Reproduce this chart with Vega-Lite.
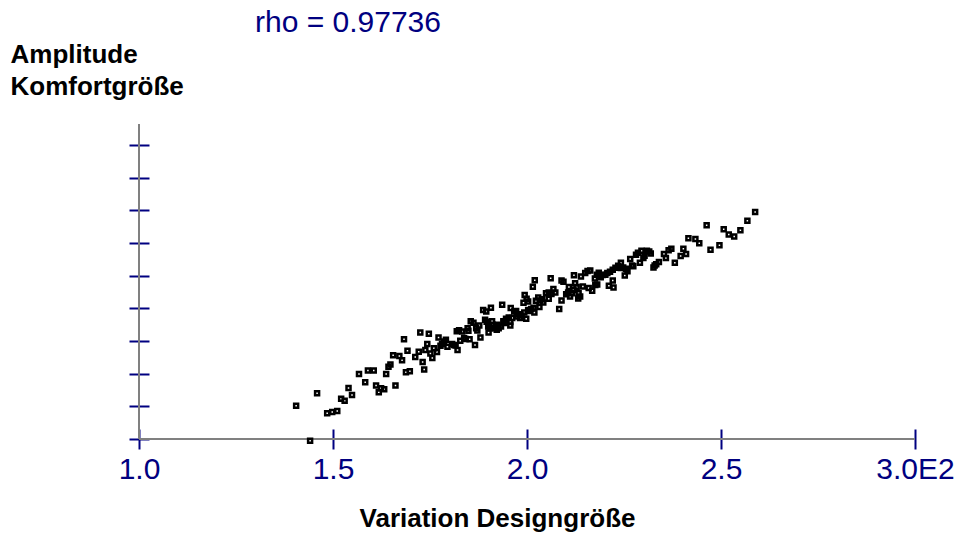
{
  "$schema": "https://vega.github.io/schema/vega-lite/v6.json",
  "width": 776,
  "height": 315,
  "autosize": "none",
  "padding": {"left": 139, "top": 124, "right": 63, "bottom": 95},
  "background": "white",
  "config": {"view": {"stroke": null}, "font": "Liberation Sans"},
  "title": {"text": "rho = 0.97736", "anchor": "start", "frame": "group", "dx": 116, "dy": 31, "offset": 10, "fontSize": 30, "font": "Liberation Sans", "fontWeight": "normal", "color": "#000080", "baseline": "alphabetic"},
  "data": {"values": [
    {"x":1.405,"y":1.02},{"x":1.441,"y":-0.05},{"x":1.459,"y":1.40},{"x":1.485,"y":0.79},{"x":1.498,"y":0.83},
    {"x":1.511,"y":0.86},{"x":1.521,"y":1.23},{"x":1.530,"y":1.17},{"x":1.540,"y":1.56},{"x":1.549,"y":1.35},
    {"x":1.567,"y":1.99},{"x":1.583,"y":1.74},{"x":1.590,"y":2.10},{"x":1.605,"y":2.10},{"x":1.611,"y":1.64},
    {"x":1.618,"y":1.43},{"x":1.624,"y":1.55},{"x":1.632,"y":1.52},{"x":1.637,"y":1.99},{"x":1.643,"y":2.21},
    {"x":1.648,"y":2.28},{"x":1.655,"y":2.56},{"x":1.661,"y":1.64},{"x":1.671,"y":2.54},{"x":1.678,"y":2.41},
    {"x":1.683,"y":3.05},{"x":1.688,"y":2.04},{"x":1.692,"y":2.70},{"x":1.698,"y":2.07},{"x":1.712,"y":2.51},
    {"x":1.721,"y":2.67},{"x":1.725,"y":3.26},{"x":1.731,"y":2.36},{"x":1.735,"y":2.13},{"x":1.738,"y":2.72},
    {"x":1.743,"y":2.91},{"x":1.747,"y":3.22},{"x":1.751,"y":2.62},{"x":1.756,"y":2.48},{"x":1.760,"y":2.78},
    {"x":1.768,"y":2.66},{"x":1.772,"y":3.11},{"x":1.777,"y":2.85},{"x":1.781,"y":2.91},{"x":1.786,"y":2.98},
    {"x":1.791,"y":3.04},{"x":1.795,"y":2.82},{"x":1.807,"y":2.91},{"x":1.812,"y":2.88},{"x":1.816,"y":2.86},
    {"x":1.821,"y":2.72},{"x":1.819,"y":3.30},{"x":1.825,"y":3.33},{"x":1.828,"y":3.01},{"x":1.833,"y":3.29},
    {"x":1.838,"y":3.09},{"x":1.842,"y":3.06},{"x":1.847,"y":3.39},{"x":1.849,"y":3.31},{"x":1.852,"y":3.05},
    {"x":1.855,"y":3.60},{"x":1.862,"y":3.56},{"x":1.866,"y":2.88},{"x":1.869,"y":3.39},{"x":1.872,"y":3.32},
    {"x":1.877,"y":3.47},{"x":1.880,"y":3.11},{"x":1.887,"y":3.95},{"x":1.895,"y":3.90},{"x":1.892,"y":3.65},
    {"x":1.896,"y":3.59},{"x":1.900,"y":3.44},{"x":1.901,"y":3.26},{"x":1.907,"y":4.02},{"x":1.905,"y":3.39},
    {"x":1.910,"y":3.60},{"x":1.912,"y":3.50},{"x":1.915,"y":3.39},{"x":1.919,"y":3.43},{"x":1.924,"y":3.50},
    {"x":1.922,"y":3.34},{"x":1.927,"y":3.39},{"x":1.933,"y":3.44},{"x":1.936,"y":4.11},{"x":1.939,"y":3.60},
    {"x":1.944,"y":3.55},{"x":1.946,"y":3.68},{"x":1.953,"y":3.72},{"x":1.958,"y":4.01},{"x":1.957,"y":3.58},
    {"x":1.957,"y":3.47},{"x":1.962,"y":3.70},{"x":1.967,"y":3.90},{"x":1.972,"y":3.92},{"x":1.974,"y":3.75},
    {"x":1.979,"y":3.82},{"x":1.982,"y":3.70},{"x":1.986,"y":3.78},{"x":1.991,"y":4.17},{"x":1.994,"y":4.41},
    {"x":1.993,"y":3.87},{"x":1.999,"y":4.29},{"x":2.003,"y":4.21},{"x":2.003,"y":3.95},{"x":1.998,"y":3.68},
    {"x":2.006,"y":3.92},{"x":2.011,"y":3.98},{"x":2.017,"y":4.02},{"x":2.015,"y":4.66},{"x":2.020,"y":4.86},
    {"x":2.023,"y":4.23},{"x":2.029,"y":4.33},{"x":2.019,"y":3.87},{"x":2.032,"y":4.04},{"x":2.034,"y":4.24},
    {"x":2.039,"y":4.28},{"x":2.042,"y":4.18},{"x":2.049,"y":4.46},{"x":2.056,"y":4.48},{"x":2.063,"y":4.44},
    {"x":2.056,"y":4.29},{"x":2.061,"y":4.92},{"x":2.068,"y":4.59},{"x":2.073,"y":4.48},{"x":2.083,"y":3.98},
    {"x":2.089,"y":4.24},{"x":2.089,"y":4.85},{"x":2.094,"y":4.81},{"x":2.101,"y":4.43},{"x":2.106,"y":4.48},
    {"x":2.111,"y":4.36},{"x":2.116,"y":4.46},{"x":2.120,"y":4.57},{"x":2.108,"y":4.65},{"x":2.121,"y":5.01},
    {"x":2.124,"y":4.77},{"x":2.128,"y":4.65},{"x":2.133,"y":4.46},{"x":2.137,"y":4.36},{"x":2.132,"y":4.30},
    {"x":2.139,"y":4.97},{"x":2.144,"y":4.67},{"x":2.150,"y":5.08},{"x":2.156,"y":5.14},{"x":2.163,"y":5.16},
    {"x":2.159,"y":4.62},{"x":2.168,"y":4.54},{"x":2.175,"y":4.91},{"x":2.176,"y":4.71},{"x":2.180,"y":5.03},
    {"x":2.185,"y":5.09},{"x":2.181,"y":4.73},{"x":2.190,"y":4.95},{"x":2.195,"y":5.02},{"x":2.202,"y":5.03},
    {"x":2.207,"y":5.08},{"x":2.214,"y":5.12},{"x":2.221,"y":5.18},{"x":2.228,"y":5.24},{"x":2.235,"y":5.30},
    {"x":2.211,"y":4.69},{"x":2.221,"y":4.85},{"x":2.223,"y":4.64},{"x":2.242,"y":5.23},{"x":2.248,"y":5.25},
    {"x":2.255,"y":5.21},{"x":2.259,"y":5.13},{"x":2.242,"y":5.39},{"x":2.252,"y":5.00},{"x":2.266,"y":5.51},
    {"x":2.271,"y":5.31},{"x":2.274,"y":5.29},{"x":2.281,"y":5.64},{"x":2.286,"y":5.70},{"x":2.295,"y":5.76},
    {"x":2.300,"y":5.54},{"x":2.303,"y":5.61},{"x":2.309,"y":5.76},{"x":2.315,"y":5.74},{"x":2.319,"y":5.68},
    {"x":2.291,"y":5.39},{"x":2.326,"y":5.25},{"x":2.329,"y":5.31},{"x":2.333,"y":5.35},{"x":2.340,"y":5.42},
    {"x":2.353,"y":5.66},{"x":2.358,"y":5.54},{"x":2.365,"y":5.78},{"x":2.372,"y":5.82},{"x":2.381,"y":5.39},
    {"x":2.396,"y":5.60},{"x":2.403,"y":5.82},{"x":2.410,"y":5.66},{"x":2.416,"y":6.14},{"x":2.434,"y":6.12},
    {"x":2.444,"y":5.99},{"x":2.463,"y":6.54},{"x":2.473,"y":5.79},{"x":2.496,"y":5.93},{"x":2.507,"y":6.42},
    {"x":2.520,"y":6.26},{"x":2.534,"y":6.20},{"x":2.550,"y":6.39},{"x":2.568,"y":6.68},{"x":2.588,"y":6.95}
  ]},
  "layer": [
    {
      "mark": {"type": "rule", "color": "#808080", "strokeWidth": 1.5},
      "encoding": {
        "x": {"datum": 1, "type": "quantitative"},
        "x2": {"datum": 3},
        "y": {"datum": 0, "type": "quantitative"}
      }
    },
    {
      "mark": {"type": "rule", "color": "#808080", "strokeWidth": 1.5},
      "encoding": {
        "x": {"datum": 1, "type": "quantitative"},
        "y": {"datum": 0, "type": "quantitative"},
        "y2": {"datum": 9.64}
      }
    },
    {
      "mark": {"type": "point", "shape": "square", "filled": false, "color": "black", "strokeWidth": 2.5, "size": 16, "opacity": 1},
      "encoding": {
        "x": {
          "field": "x", "type": "quantitative",
          "scale": {"domain": [1, 3], "nice": false, "zero": false},
          "axis": {
            "title": "Variation Designgröße",
            "titleFont": "Liberation Sans", "titleFontSize": 26, "titleFontWeight": "bold", "titleColor": "black",
            "titleX": 358, "titleY": 97, "titleAlign": "center", "titleBaseline": "alphabetic",
            "values": [1, 1.5, 2, 2.5, 3],
            "labelExpr": "datum.value == 3 ? '3.0E2' : format(datum.value, '.1f')",
            "labelFont": "Liberation Sans", "labelFontSize": 30, "labelColor": "#000080", "labelPadding": 5,
            "labelFlush": false, "labelOverlap": false,
            "domain": false, "grid": false, "offset": -10, "tickSize": 20, "tickWidth": 2, "tickColor": "#000080"
          }
        },
        "y": {
          "field": "y", "type": "quantitative",
          "scale": {"domain": [0, 9.64], "nice": false, "zero": false},
          "axis": {
            "title": ["Amplitude", "Komfortgröße"],
            "titleFont": "Liberation Sans", "titleFontSize": 26, "titleFontWeight": "bold", "titleColor": "black",
            "titleAngle": 0, "titleX": -139, "titleY": -83, "titleAlign": "left", "titleBaseline": "top", "titleLineHeight": 32,
            "values": [0, 1, 2, 3, 4, 5, 6, 7, 8, 9],
            "tickCount": 10,
            "labels": true, "labelOpacity": 0, "labelOverlap": false, "labelFontSize": 6,
            "domain": false, "grid": false, "offset": -10, "tickSize": 20, "tickWidth": 2, "tickColor": "#000080"
          }
        }
      }
    }
  ]
}
